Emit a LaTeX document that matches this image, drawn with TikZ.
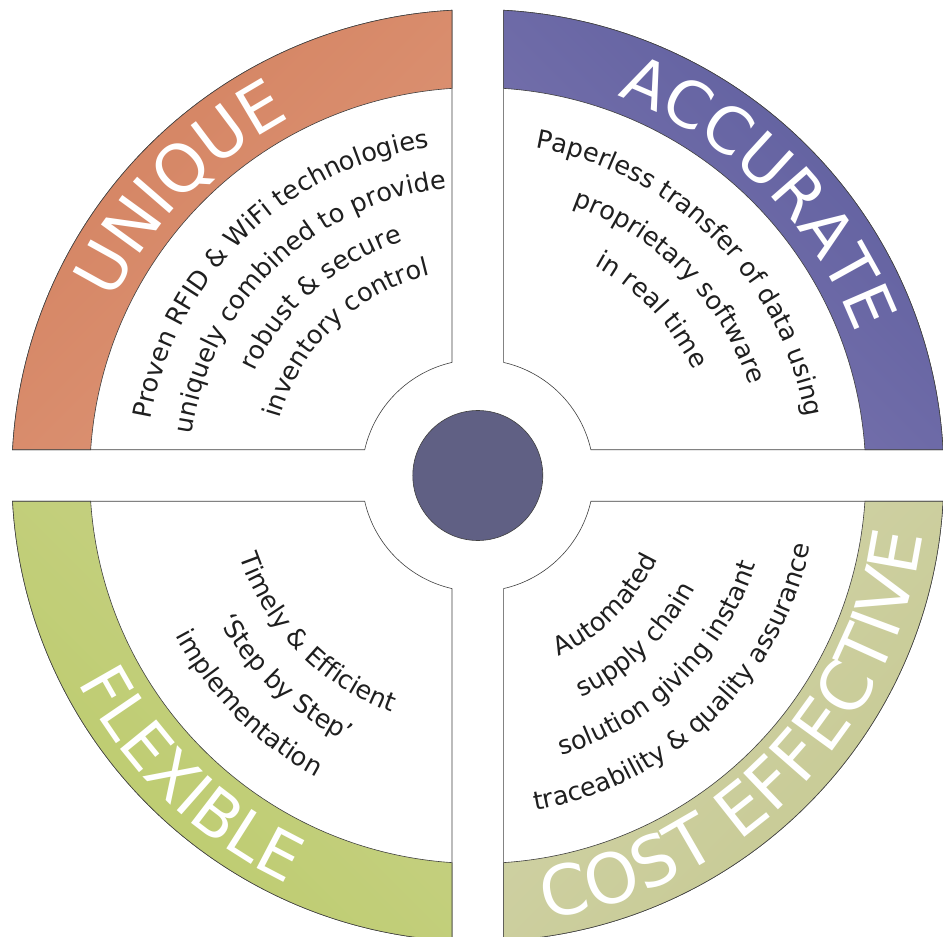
\documentclass[tikz,border=0pt]{standalone}
\usepackage{fontspec}
\setmainfont{DejaVu Sans}
\usetikzlibrary{decorations.text}

\definecolor{uniDark}{RGB}{211,130,96}
\definecolor{uniLight}{RGB}{222,150,120}
\definecolor{accDark}{RGB}{94,94,158}
\definecolor{accLight}{RGB}{124,118,176}
\definecolor{flxDark}{RGB}{188,203,108}
\definecolor{flxLight}{RGB}{200,210,136}
\definecolor{cstDark}{RGB}{198,201,146}
\definecolor{cstLight}{RGB}{210,212,170}
\definecolor{hub}{RGB}{96,96,132}

\tikzset{
  quad/.style={draw=black!75,line width=0.6pt},
  title/.style 2 args={decorate,decoration={text along path,text align=center,text color=white,
    text={|\fontsize{#1}{#1}\selectfont|#2}}},
  blurb/.style={decorate,decoration={text along path,text align=center,text color=black!88,
    text={|\fontsize{25.5}{30}\selectfont|#1}}}
}

\begin{document}
\begin{tikzpicture}[x=1pt,y=1pt]
  \useasboundingbox (-477.8,-461.5) rectangle (465.2,475.5);
  \clip (-477.8,-461.5) rectangle (465.2,475.5);

  % quadrants and coloured bands
  \foreach \ang/\dk/\lt/\sh in {0/accDark/accLight/-45,90/uniDark/uniLight/45,180/flxDark/flxLight/135,270/cstDark/cstLight/225}{
    \draw[quad,fill=white] ({\ang+3.17}:466) arc[start angle=\ang+3.17,end angle=\ang+86.83,radius=466]
      -- ({\ang+77.15}:116) arc[start angle=\ang+77.15,end angle=\ang+12.85,radius=116] -- cycle;
    \draw[quad,top color=\dk,bottom color=\lt,shading angle=\sh] ({\ang+3.17}:466) arc[start angle=\ang+3.17,end angle=\ang+86.83,radius=466]
      -- ({\ang+86.19}:388) arc[start angle=\ang+86.19,end angle=\ang+3.81,radius=388] -- cycle;
  }

  \node[circle,draw=black!75,line width=0.6pt,fill=hub,minimum size=130pt,inner sep=0pt] (hub) at (0,0) {};

  % titles
  \path[title={66}{UNIQUE}] (216:404) arc[start angle=216,end angle=56,radius=404];
  \path[title={64}{ACCURATE}] (125.2:404) arc[start angle=125.2,end angle=-34.8,radius=404];
  \path[title={64}{FLEXIBLE}] (146.2:450) arc[start angle=146.2,end angle=306.2,radius=450];
  \path[title={69}{COST EFFECTIVE}] (235.6:449) arc[start angle=235.6,end angle=395.6,radius=449];

  % unique
  \path[blurb={Proven RFID {\&} WiFi technologies}] (214.3:332) arc[start angle=214.3,end angle=54.3,radius=332];
  \path[blurb={uniquely combined to provide}] (214:289) arc[start angle=214,end angle=54,radius=289];
  \path[blurb={robust {\&} secure}] (211.4:246) arc[start angle=211.4,end angle=51.4,radius=246];
  \path[blurb={inventory control}] (213.7:206) arc[start angle=213.7,end angle=53.7,radius=206];

  % accurate
  \path[blurb={Paperless transfer of data using}] (125:333) arc[start angle=125,end angle=-35,radius=333];
  \path[blurb={proprietary software}] (124.5:286) arc[start angle=124.5,end angle=-35.5,radius=286];
  \path[blurb={in real time}] (123.5:240) arc[start angle=123.5,end angle=-36.5,radius=240];

  % flexible
  \path[blurb={Timely {\&} Efficient}] (144.4:252) arc[start angle=144.4,end angle=304.4,radius=252];
  \path[blurb={‘Step by Step’}] (146.5:297) arc[start angle=146.5,end angle=306.5,radius=297];
  \path[blurb={implementation}] (144.9:342) arc[start angle=144.9,end angle=304.9,radius=342];

  % cost effective
  \path[blurb={Automated}] (234.6:198) arc[start angle=234.6,end angle=394.6,radius=198];
  \path[blurb={supply chain}] (233.8:245) arc[start angle=233.8,end angle=393.8,radius=245];
  \path[blurb={solution giving instant}] (234.5:292) arc[start angle=234.5,end angle=394.5,radius=292];
  \path[blurb={traceability {\&} quality assurance}] (233.9:340) arc[start angle=233.9,end angle=393.9,radius=340];

\end{tikzpicture}
\end{document}
